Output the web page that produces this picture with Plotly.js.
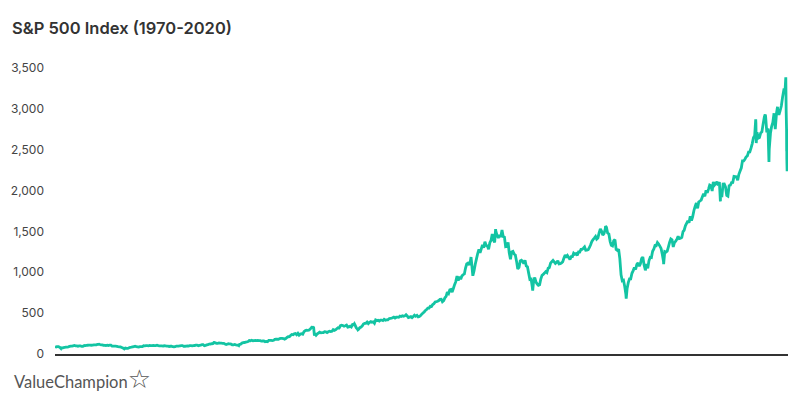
<!DOCTYPE html>
<html>
<head>
<meta charset="utf-8">
<script src="https://cdn.plot.ly/plotly-3.0.1.min.js"></script>
<style>html,body{margin:0;padding:0;background:#fff;}#chart{width:800px;height:403px;}</style>
</head>
<body>
<div id="chart"></div>
<script>
// Monthly closes of the S&P 500, January 1970 onward (read/estimated)
const startYear = 1970;
const monthlyCloses = [
  85.02, 89.50, 89.63, 81.52, 76.55, 72.72, 78.05, 81.52, 84.21, 83.25, 87.20, 92.15,
  95.88, 96.75, 100.31, 103.95, 99.63, 99.70, 95.58, 99.03, 98.34, 94.23, 93.99, 102.09,
  103.94, 106.57, 107.20, 107.67, 109.53, 107.14, 107.39, 111.09, 110.55, 111.58, 116.67, 118.05,
  116.03, 111.68, 111.52, 106.97, 104.95, 104.26, 108.22, 104.25, 108.43, 108.29, 95.96, 97.55,
  96.57, 96.22, 93.98, 90.31, 87.28, 86.00, 79.31, 72.15, 63.54, 73.90, 69.97, 68.56,
  76.98, 81.59, 83.36, 87.30, 91.15, 95.19, 88.75, 86.88, 83.87, 89.04, 91.24, 90.19,
  100.86, 99.71, 102.77, 101.64, 100.18, 104.28, 103.44, 102.91, 105.24, 102.90, 102.10, 107.46,
  102.03, 99.82, 98.42, 98.44, 96.12, 100.48, 98.85, 96.77, 96.53, 92.34, 94.83, 95.10,
  89.25, 87.04, 89.21, 96.83, 97.24, 95.53, 100.68, 103.29, 102.54, 93.15, 94.70, 96.11,
  99.93, 96.28, 101.59, 101.76, 99.08, 102.91, 103.81, 109.32, 109.32, 101.82, 106.16, 107.94,
  114.16, 113.66, 102.09, 106.29, 111.24, 114.24, 121.67, 122.38, 125.46, 127.47, 140.52, 135.76,
  129.55, 131.27, 136.00, 132.81, 132.59, 131.21, 130.92, 122.79, 116.18, 121.89, 126.35, 122.55,
  120.40, 113.11, 111.96, 116.44, 111.88, 109.61, 107.09, 119.51, 120.42, 133.71, 138.54, 140.64,
  145.30, 148.06, 152.96, 164.42, 162.39, 168.11, 162.56, 164.40, 166.07, 163.55, 166.40, 164.93,
  163.41, 157.06, 159.18, 160.05, 150.55, 153.18, 150.66, 166.68, 166.10, 166.09, 163.58, 167.24,
  179.63, 181.18, 180.66, 179.83, 189.55, 191.85, 190.92, 188.63, 182.08, 189.82, 202.17, 211.28,
  211.78, 226.92, 238.90, 235.52, 247.35, 250.84, 236.12, 252.93, 231.32, 243.98, 249.22, 242.17,
  274.08, 284.20, 291.70, 288.36, 290.10, 304.00, 318.66, 329.80, 321.83, 251.79, 230.30, 247.08,
  257.07, 267.82, 258.89, 261.33, 262.16, 273.50, 272.02, 261.52, 271.91, 278.97, 273.70, 277.72,
  297.47, 288.86, 294.87, 309.64, 320.52, 317.98, 346.08, 351.45, 349.15, 340.36, 345.99, 353.40,
  329.08, 331.89, 339.94, 330.80, 361.23, 358.02, 356.15, 322.56, 306.05, 304.00, 322.22, 330.22,
  343.93, 367.07, 375.22, 375.35, 389.83, 371.16, 387.81, 395.43, 387.86, 392.46, 375.22, 417.09,
  408.79, 412.70, 403.69, 414.95, 415.35, 408.14, 424.21, 414.03, 417.80, 418.68, 431.35, 435.71,
  438.78, 443.38, 451.67, 440.19, 450.19, 450.53, 448.13, 463.56, 458.93, 467.83, 461.79, 466.45,
  481.61, 467.14, 445.77, 450.91, 456.50, 444.27, 458.26, 475.49, 462.69, 472.35, 453.69, 459.27,
  470.42, 487.39, 500.71, 514.71, 533.40, 544.75, 562.06, 561.88, 584.41, 581.50, 605.37, 615.93,
  636.02, 640.43, 645.50, 654.17, 669.12, 670.63, 639.95, 651.99, 687.31, 705.27, 757.02, 740.74,
  786.16, 790.82, 757.12, 801.34, 848.28, 885.14, 954.31, 899.47, 947.28, 914.62, 955.40, 970.43,
  980.28, 1049.34, 1101.75, 1111.75, 1090.82, 1133.84, 1120.67, 957.28, 1017.01, 1098.67, 1163.63, 1229.23,
  1279.64, 1238.33, 1286.37, 1335.18, 1301.84, 1372.71, 1328.72, 1320.41, 1282.71, 1362.93, 1388.91, 1469.25,
  1394.46, 1366.42, 1498.58, 1452.43, 1420.60, 1454.60, 1430.83, 1517.68, 1436.51, 1429.40, 1314.95, 1320.28,
  1366.01, 1239.94, 1160.33, 1249.46, 1255.82, 1224.42, 1211.23, 1133.58, 1040.94, 1059.78, 1139.45, 1148.08,
  1130.20, 1106.73, 1147.39, 1076.92, 1067.14, 989.82, 911.62, 916.07, 815.28, 885.76, 936.31, 879.82,
  855.70, 841.15, 848.18, 916.92, 963.59, 974.50, 990.31, 1008.01, 995.97, 1050.71, 1058.20, 1111.92,
  1131.13, 1144.94, 1126.21, 1107.30, 1120.68, 1140.84, 1101.72, 1104.24, 1114.58, 1130.20, 1173.82, 1211.92,
  1181.27, 1203.60, 1180.59, 1156.85, 1191.50, 1191.33, 1234.18, 1220.33, 1228.81, 1207.01, 1249.48, 1248.29,
  1280.08, 1280.66, 1294.87, 1310.61, 1270.09, 1270.20, 1276.66, 1303.82, 1335.85, 1377.94, 1400.63, 1418.30,
  1438.24, 1406.82, 1420.86, 1482.37, 1530.62, 1503.35, 1455.27, 1473.99, 1526.75, 1549.38, 1481.14, 1468.36,
  1378.55, 1330.63, 1322.70, 1385.59, 1400.38, 1280.00, 1267.38, 1282.83, 1166.36, 968.75, 896.24, 903.25,
  825.88, 735.09, 797.87, 872.81, 919.14, 919.32, 987.48, 1020.62, 1057.08, 1036.19, 1095.63, 1115.10,
  1073.87, 1104.49, 1169.43, 1186.69, 1089.41, 1030.71, 1101.60, 1049.33, 1141.20, 1183.26, 1180.55, 1257.64,
  1286.12, 1327.22, 1325.83, 1363.61, 1345.20, 1320.64, 1292.28, 1218.89, 1131.42, 1253.30, 1246.96, 1257.60,
  1312.41, 1365.68, 1408.47, 1397.91, 1310.33, 1362.16, 1379.32, 1406.58, 1440.67, 1412.16, 1416.18, 1426.19,
  1498.11, 1514.68, 1569.19, 1597.57, 1630.74, 1606.28, 1685.73, 1632.97, 1681.55, 1756.54, 1805.81, 1848.36,
  1782.59, 1859.45, 1872.34, 1883.95, 1923.57, 1960.23, 1930.67, 2003.37, 1972.29, 2018.05, 2067.56, 2058.90,
  1994.99, 2104.50, 2067.89, 2085.51, 2107.39, 2063.11, 2103.84, 1972.18, 1920.03, 2079.36, 2080.41, 2043.94,
  1940.24, 1932.23, 2059.74, 2065.30, 2096.95, 2098.86, 2173.60, 2170.95, 2168.27, 2126.15, 2198.81, 2238.83,
  2278.87, 2363.64, 2362.72, 2384.20, 2411.80, 2423.41, 2470.30, 2471.65, 2519.36, 2575.26, 2647.58, 2673.61,
  2823.81, 2713.83, 2640.87, 2648.05, 2705.27, 2718.37, 2816.29, 2901.52, 2913.98, 2711.74, 2760.17, 2506.85,
  2704.10, 2784.49, 2834.40, 2945.83, 2752.06, 2941.76, 2980.38, 2926.46, 2976.74, 3037.56, 3140.98, 3230.78,
  3225.52, 2954.22, 2584.59
];

// Notable daily closes (peaks and troughs between month-ends)
const dailyDates = [
  "1970-01-02", "1970-05-26", "1973-01-11", "1974-10-03", "1980-11-28", "1982-08-12",
  "1987-08-25", "1987-10-19", "1990-07-16", "1990-10-11", "1998-07-17", "2000-03-24",
  "2002-10-09", "2007-10-09", "2009-03-09", "2010-07-02", "2011-10-03", "2015-08-25",
  "2018-01-26", "2018-02-08", "2018-09-20", "2018-12-24", "2019-07-26", "2020-02-19",
  "2020-03-09", "2020-03-12", "2020-03-13", "2020-03-16", "2020-03-23", "2020-03-26",
  "2020-04-01", "2020-04-08"
];
const dailyValues = [
  93.00, 69.29, 120.24, 62.28, 140.52, 102.42,
  336.77, 224.84, 369.78, 295.46, 1186.75, 1527.46,
  776.76, 1565.15, 676.53, 1022.58, 1099.23, 1867.61,
  2872.87, 2581.00, 2930.75, 2351.10, 3025.86, 3386.15,
  2746.56, 2480.64, 2711.02, 2386.13, 2237.40, 2630.07,
  2470.50, 2749.98
];

const yTicks = [0, 500, 1000, 1500, 2000, 2500, 3000, 3500];

function pad(n) { return (n < 10 ? "0" : "") + n; }
const pts = [];
monthlyCloses.forEach((v, i) => {
  const y = startYear + Math.floor(i / 12);
  const m = i % 12;
  const last = new Date(Date.UTC(y, m + 1, 0)).getUTCDate();
  pts.push({ d: y + "-" + pad(m + 1) + "-" + pad(last), v: v });
});
dailyDates.forEach((d, i) => pts.push({ d: d, v: dailyValues[i] }));
pts.sort((a, b) => (a.d < b.d ? -1 : a.d > b.d ? 1 : 0));

const trace = {
  x: pts.map(p => p.d),
  y: pts.map(p => p.v),
  type: "scatter",
  mode: "lines",
  line: { color: "#13c4a3", width: 2.8, simplify: false },
  cliponaxis: false,
  hoverinfo: "skip"
};

const layout = {
  width: 800,
  height: 403,
  margin: { l: 55, r: 12, t: 68, b: 49 },
  paper_bgcolor: "#ffffff",
  plot_bgcolor: "#ffffff",
  showlegend: false,
  title: {
    text: "S&P 500 Index (1970-2020)",
    x: 12 / 800,
    xanchor: "left",
    xref: "container",
    y: 1 - 28 / 403,
    yanchor: "middle",
    yref: "container",
    font: { family: "Inter, Lato, sans-serif", size: 16.5, color: "#333333", weight: 600 }
  },
  xaxis: {
    type: "date",
    range: ["1970-01-01", "2020-04-14"],
    showline: true,
    linecolor: "#333333",
    linewidth: 1.5,
    showgrid: false,
    zeroline: false,
    showticklabels: false,
    ticks: "",
    fixedrange: true
  },
  yaxis: {
    range: [0, 3500],
    tickvals: yTicks,
    ticktext: yTicks.map(v => v.toLocaleString("en-US")),
    showgrid: false,
    zeroline: false,
    showline: false,
    ticks: "",
    ticklabelstandoff: 10,
    tickfont: { family: "Inter, Lato, sans-serif", size: 12, color: "#444444" },
    fixedrange: true
  },
  annotations: [{
    xref: "paper", yref: "paper",
    x: (12 - 55) / 733, y: -(379 - 354) / 286,
    xanchor: "left", yanchor: "middle",
    showarrow: false,
    text: 'ValueChampion<span style="font-family:DejaVu Sans;font-size:26px">☆</span>',
    font: { family: "Lato, 'Open Sans', sans-serif", size: 16.5, color: "#555555" }
  }]
};

Plotly.newPlot("chart", [trace], layout, { displayModeBar: false, staticPlot: true });
</script>
</body>
</html>
